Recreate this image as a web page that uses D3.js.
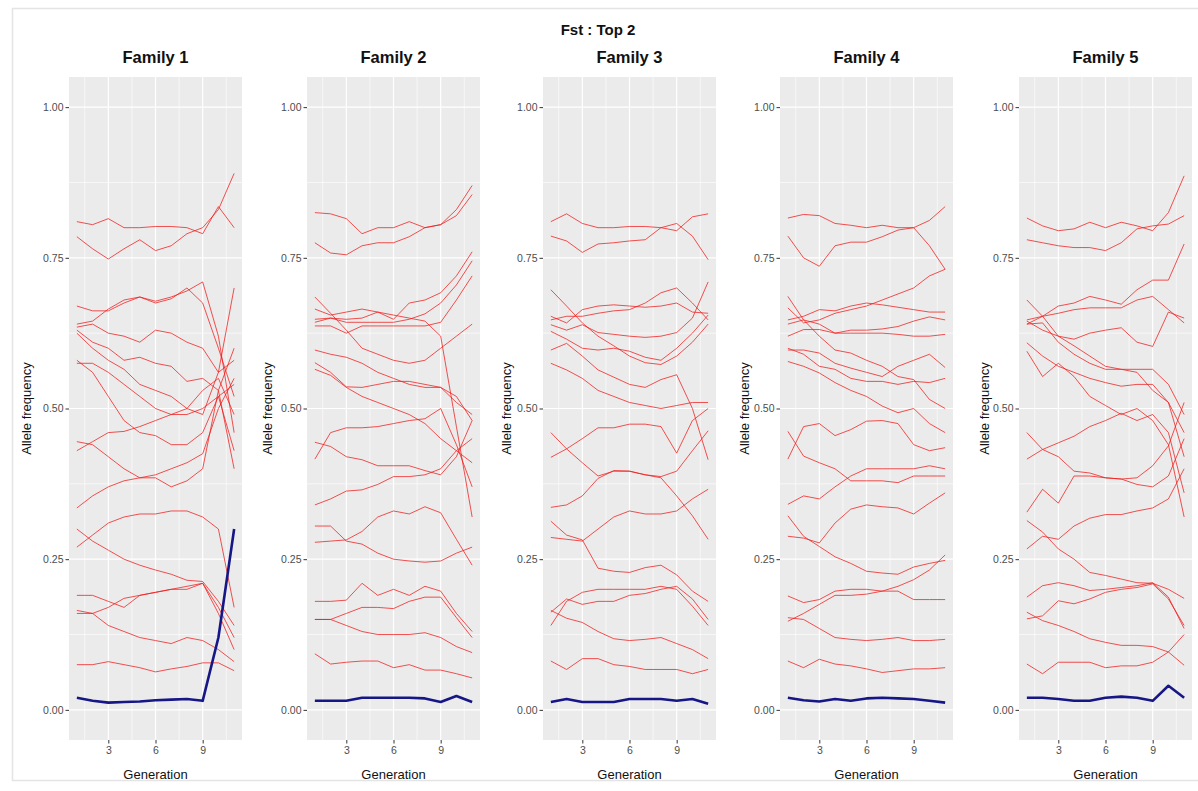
<!DOCTYPE html>
<html>
<head>
<meta charset="utf-8">
<script src="https://cdnjs.cloudflare.com/ajax/libs/d3/7.8.5/d3.min.js"></script>
<style>
  body { margin: 0; background: #fff; }
  svg { font-family: "Liberation Sans", Arial, sans-serif; display: block; }
</style>
</head>
<body>
<div id="chart"></div>
<script>
var mainTitle = 'Fst : Top 2';
var familyNames = ['Family 1', 'Family 2', 'Family 3', 'Family 4', 'Family 5'];
var generations = [1, 2, 3, 4, 5, 6, 7, 8, 9, 10, 11];
var yTicks = [0, 0.25, 0.5, 0.75, 1];
var yMinor = [0.125, 0.375, 0.625, 0.875];
var xTicks = [3, 6, 9];
var xMinor = [1.5, 4.5, 7.5, 10.5];

// allele frequency per generation, one row per SNP
var family1Red = [
  [0.81, 0.805, 0.815, 0.80, 0.80, 0.802, 0.802, 0.80, 0.79, 0.835, 0.80],
  [0.785, 0.765, 0.748, 0.765, 0.78, 0.762, 0.77, 0.79, 0.80, 0.83, 0.89],
  [0.67, 0.662, 0.662, 0.675, 0.685, 0.678, 0.685, 0.695, 0.71, 0.62, 0.46],
  [0.64, 0.645, 0.665, 0.68, 0.685, 0.675, 0.682, 0.70, 0.675, 0.60, 0.52],
  [0.635, 0.64, 0.625, 0.62, 0.61, 0.63, 0.625, 0.61, 0.60, 0.56, 0.70],
  [0.63, 0.61, 0.60, 0.58, 0.585, 0.575, 0.57, 0.545, 0.55, 0.53, 0.60],
  [0.625, 0.60, 0.58, 0.565, 0.54, 0.53, 0.52, 0.50, 0.49, 0.56, 0.58],
  [0.575, 0.575, 0.56, 0.54, 0.52, 0.50, 0.49, 0.50, 0.53, 0.55, 0.49],
  [0.58, 0.56, 0.52, 0.48, 0.46, 0.455, 0.44, 0.44, 0.46, 0.52, 0.43],
  [0.445, 0.44, 0.42, 0.40, 0.385, 0.385, 0.37, 0.38, 0.40, 0.53, 0.40],
  [0.43, 0.445, 0.46, 0.462, 0.47, 0.48, 0.49, 0.49, 0.50, 0.52, 0.54],
  [0.335, 0.355, 0.37, 0.38, 0.385, 0.39, 0.40, 0.41, 0.425, 0.50, 0.55],
  [0.30, 0.28, 0.265, 0.25, 0.24, 0.232, 0.225, 0.215, 0.213, 0.18, 0.14],
  [0.27, 0.29, 0.31, 0.32, 0.325, 0.325, 0.33, 0.33, 0.32, 0.30, 0.17],
  [0.19, 0.19, 0.18, 0.17, 0.19, 0.195, 0.20, 0.205, 0.21, 0.16, 0.10],
  [0.165, 0.16, 0.17, 0.185, 0.19, 0.195, 0.20, 0.20, 0.21, 0.17, 0.12],
  [0.16, 0.16, 0.14, 0.13, 0.12, 0.115, 0.11, 0.12, 0.115, 0.10, 0.08],
  [0.075, 0.075, 0.08, 0.075, 0.07, 0.063, 0.068, 0.072, 0.078, 0.078, 0.065]
];
var family1Blue = [0.02, 0.015, 0.012, 0.013, 0.014, 0.016, 0.017, 0.018, 0.015, 0.12, 0.30];

var family2Red = [
  [0.825, 0.823, 0.815, 0.79, 0.80, 0.80, 0.81, 0.80, 0.805, 0.83, 0.87],
  [0.775, 0.758, 0.755, 0.77, 0.775, 0.775, 0.785, 0.80, 0.805, 0.82, 0.855],
  [0.648, 0.65, 0.648, 0.65, 0.66, 0.648, 0.675, 0.68, 0.692, 0.72, 0.76],
  [0.643, 0.65, 0.643, 0.643, 0.643, 0.643, 0.648, 0.657, 0.675, 0.705, 0.745],
  [0.637, 0.637, 0.625, 0.637, 0.637, 0.637, 0.637, 0.637, 0.643, 0.68, 0.72],
  [0.685, 0.658, 0.63, 0.60, 0.59, 0.58, 0.575, 0.58, 0.60, 0.62, 0.64],
  [0.665, 0.655, 0.66, 0.665, 0.66, 0.655, 0.65, 0.645, 0.62, 0.47, 0.32],
  [0.597, 0.59, 0.585, 0.575, 0.56, 0.55, 0.54, 0.535, 0.535, 0.52, 0.48],
  [0.576, 0.56, 0.536, 0.535, 0.54, 0.545, 0.545, 0.54, 0.535, 0.51, 0.49],
  [0.565, 0.555, 0.535, 0.52, 0.51, 0.50, 0.49, 0.475, 0.45, 0.43, 0.41],
  [0.416, 0.46, 0.468, 0.468, 0.47, 0.475, 0.48, 0.483, 0.50, 0.44, 0.37],
  [0.444, 0.437, 0.42, 0.415, 0.405, 0.405, 0.405, 0.397, 0.39, 0.42, 0.48],
  [0.34, 0.35, 0.363, 0.365, 0.374, 0.387, 0.387, 0.39, 0.40, 0.43, 0.45],
  [0.305, 0.305, 0.28, 0.275, 0.26, 0.25, 0.247, 0.245, 0.247, 0.26, 0.27],
  [0.278, 0.28, 0.282, 0.296, 0.32, 0.33, 0.325, 0.337, 0.327, 0.283, 0.24],
  [0.18, 0.18, 0.182, 0.21, 0.19, 0.20, 0.19, 0.205, 0.197, 0.16, 0.13],
  [0.15, 0.15, 0.16, 0.17, 0.17, 0.168, 0.18, 0.187, 0.187, 0.153, 0.12],
  [0.15, 0.15, 0.14, 0.13, 0.125, 0.125, 0.125, 0.128, 0.12, 0.105, 0.095],
  [0.093, 0.076, 0.079, 0.081, 0.081, 0.07, 0.075, 0.066, 0.066, 0.06, 0.053]
];
var family2Blue = [0.015, 0.015, 0.015, 0.02, 0.02, 0.02, 0.02, 0.019, 0.013, 0.023, 0.013];

var family3Red = [
  [0.81, 0.823, 0.807, 0.80, 0.80, 0.802, 0.802, 0.80, 0.795, 0.818, 0.823],
  [0.786, 0.778, 0.759, 0.773, 0.775, 0.778, 0.78, 0.80, 0.807, 0.786, 0.747],
  [0.697, 0.67, 0.642, 0.62, 0.604, 0.587, 0.576, 0.573, 0.587, 0.61, 0.64],
  [0.653, 0.642, 0.664, 0.67, 0.672, 0.67, 0.668, 0.67, 0.675, 0.66, 0.658],
  [0.647, 0.653, 0.653, 0.658, 0.662, 0.664, 0.675, 0.692, 0.70, 0.675, 0.647],
  [0.639, 0.63, 0.639, 0.626, 0.623, 0.62, 0.618, 0.62, 0.626, 0.65, 0.71],
  [0.628, 0.615, 0.60, 0.597, 0.60, 0.595, 0.585, 0.58, 0.60, 0.625, 0.655],
  [0.597, 0.608, 0.587, 0.564, 0.552, 0.54, 0.535, 0.548, 0.556, 0.50, 0.415],
  [0.575, 0.564, 0.55, 0.53, 0.52, 0.51, 0.505, 0.50, 0.505, 0.51, 0.51],
  [0.46, 0.433, 0.41, 0.388, 0.396, 0.396, 0.39, 0.385, 0.355, 0.322, 0.283],
  [0.419, 0.433, 0.45, 0.468, 0.468, 0.474, 0.474, 0.47, 0.426, 0.48, 0.50],
  [0.336, 0.34, 0.355, 0.384, 0.397, 0.396, 0.39, 0.387, 0.396, 0.43, 0.463],
  [0.313, 0.29, 0.282, 0.235, 0.23, 0.228, 0.236, 0.24, 0.224, 0.197, 0.18],
  [0.286, 0.283, 0.28, 0.30, 0.32, 0.33, 0.325, 0.325, 0.33, 0.35, 0.366],
  [0.14, 0.18, 0.195, 0.20, 0.20, 0.20, 0.20, 0.205, 0.20, 0.172, 0.14],
  [0.162, 0.184, 0.175, 0.18, 0.18, 0.19, 0.193, 0.20, 0.205, 0.184, 0.15],
  [0.165, 0.152, 0.145, 0.13, 0.118, 0.115, 0.117, 0.12, 0.11, 0.10, 0.085],
  [0.081, 0.067, 0.085, 0.085, 0.075, 0.072, 0.067, 0.067, 0.067, 0.06, 0.067]
];
var family3Blue = [0.013, 0.018, 0.013, 0.013, 0.013, 0.018, 0.018, 0.018, 0.015, 0.018, 0.01];

var family4Red = [
  [0.816, 0.822, 0.82, 0.807, 0.804, 0.80, 0.804, 0.80, 0.80, 0.812, 0.835],
  [0.786, 0.75, 0.736, 0.77, 0.776, 0.776, 0.785, 0.796, 0.80, 0.77, 0.731],
  [0.686, 0.647, 0.62, 0.597, 0.592, 0.58, 0.57, 0.553, 0.548, 0.515, 0.50],
  [0.667, 0.642, 0.647, 0.658, 0.664, 0.67, 0.68, 0.69, 0.70, 0.72, 0.731],
  [0.647, 0.653, 0.664, 0.662, 0.67, 0.675, 0.672, 0.668, 0.664, 0.66, 0.66],
  [0.62, 0.631, 0.631, 0.625, 0.625, 0.625, 0.625, 0.623, 0.62, 0.62, 0.623],
  [0.64, 0.647, 0.64, 0.625, 0.63, 0.63, 0.632, 0.636, 0.645, 0.652, 0.647],
  [0.597, 0.597, 0.592, 0.575, 0.567, 0.56, 0.553, 0.57, 0.58, 0.59, 0.568],
  [0.578, 0.57, 0.559, 0.543, 0.53, 0.52, 0.504, 0.493, 0.50, 0.475, 0.46],
  [0.60, 0.59, 0.57, 0.565, 0.55, 0.545, 0.545, 0.54, 0.545, 0.543, 0.55],
  [0.416, 0.47, 0.475, 0.455, 0.465, 0.479, 0.48, 0.475, 0.44, 0.43, 0.435],
  [0.462, 0.421, 0.41, 0.40, 0.38, 0.38, 0.38, 0.377, 0.388, 0.388, 0.388],
  [0.341, 0.355, 0.35, 0.37, 0.388, 0.40, 0.40, 0.40, 0.40, 0.405, 0.40],
  [0.288, 0.285, 0.277, 0.31, 0.333, 0.34, 0.337, 0.335, 0.325, 0.343, 0.36],
  [0.322, 0.288, 0.271, 0.254, 0.243, 0.23, 0.227, 0.225, 0.237, 0.243, 0.248],
  [0.189, 0.178, 0.183, 0.197, 0.20, 0.20, 0.197, 0.197, 0.183, 0.183, 0.183],
  [0.147, 0.16, 0.175, 0.19, 0.19, 0.192, 0.197, 0.205, 0.216, 0.232, 0.257],
  [0.153, 0.15, 0.135, 0.12, 0.117, 0.115, 0.117, 0.12, 0.115, 0.115, 0.117],
  [0.081, 0.07, 0.084, 0.076, 0.073, 0.068, 0.062, 0.065, 0.068, 0.068, 0.07]
];
var family4Blue = [0.02, 0.016, 0.014, 0.018, 0.015, 0.019, 0.02, 0.019, 0.018, 0.015, 0.012];

var family5Red = [
  [0.816, 0.803, 0.795, 0.798, 0.809, 0.80, 0.809, 0.803, 0.795, 0.825, 0.886],
  [0.78, 0.775, 0.77, 0.767, 0.767, 0.762, 0.775, 0.798, 0.803, 0.806, 0.82],
  [0.68, 0.653, 0.62, 0.604, 0.587, 0.57, 0.565, 0.565, 0.565, 0.54, 0.49],
  [0.647, 0.653, 0.67, 0.675, 0.686, 0.68, 0.673, 0.697, 0.713, 0.713, 0.773],
  [0.64, 0.653, 0.658, 0.664, 0.667, 0.667, 0.667, 0.68, 0.686, 0.664, 0.642],
  [0.645, 0.63, 0.62, 0.615, 0.625, 0.63, 0.634, 0.61, 0.603, 0.66, 0.65],
  [0.64, 0.642, 0.61, 0.59, 0.575, 0.565, 0.565, 0.56, 0.53, 0.51, 0.42],
  [0.609, 0.587, 0.57, 0.56, 0.55, 0.543, 0.537, 0.54, 0.54, 0.51, 0.46],
  [0.595, 0.553, 0.575, 0.553, 0.52, 0.505, 0.49, 0.50, 0.48, 0.44, 0.32],
  [0.46, 0.432, 0.42, 0.396, 0.393, 0.385, 0.383, 0.374, 0.37, 0.388, 0.45],
  [0.416, 0.432, 0.443, 0.454, 0.47, 0.48, 0.492, 0.48, 0.49, 0.46, 0.36],
  [0.328, 0.366, 0.343, 0.388, 0.388, 0.385, 0.383, 0.385, 0.405, 0.438, 0.51],
  [0.267, 0.288, 0.283, 0.305, 0.318, 0.324, 0.324, 0.33, 0.335, 0.35, 0.40],
  [0.314, 0.295, 0.267, 0.25, 0.228, 0.223, 0.217, 0.211, 0.21, 0.20, 0.185],
  [0.187, 0.206, 0.211, 0.206, 0.198, 0.20, 0.203, 0.206, 0.211, 0.187, 0.135],
  [0.151, 0.156, 0.181, 0.176, 0.184, 0.195, 0.20, 0.203, 0.209, 0.184, 0.14],
  [0.162, 0.148, 0.14, 0.13, 0.118, 0.112, 0.107, 0.107, 0.105, 0.096, 0.074],
  [0.076, 0.06, 0.079, 0.079, 0.079, 0.07, 0.073, 0.073, 0.079, 0.096, 0.125]
];
var family5Blue = [0.02, 0.02, 0.018, 0.015, 0.015, 0.02, 0.022, 0.02, 0.015, 0.04, 0.02];

var redSeries = [family1Red, family2Red, family3Red, family4Red, family5Red];
var blueSeries = [family1Blue, family2Blue, family3Blue, family4Blue, family5Blue];

// layout of the five side-by-side ggplot panels
var svgWidth = 1198;
var svgHeight = 791;
var panelLeft = [69, 307, 543, 780, 1019];
var yTitleX = [27, 268, 507, 745, 985];
var panelTop = 77;
var panelWidth = 173;
var panelHeight = 663;

var svg = d3.select('#chart').append('svg')
  .attr('width', svgWidth)
  .attr('height', svgHeight);

// faint frame of the screenshot
svg.append('rect')
  .attr('x', 12.5)
  .attr('y', 8.5)
  .attr('width', svgWidth)
  .attr('height', 772)
  .attr('fill', 'none')
  .attr('stroke', '#e4e4e4')
  .attr('stroke-width', 1.5);

svg.append('text')
  .attr('x', 598)
  .attr('y', 35)
  .attr('text-anchor', 'middle')
  .attr('font-size', 15)
  .attr('font-weight', 'bold')
  .attr('fill', '#111')
  .text(mainTitle);

familyNames.forEach(function (name, i) {
  var xScale = d3.scaleLinear()
    .domain([0.5, 11.5])
    .range([0, panelWidth]);
  var yScale = d3.scaleLinear()
    .domain([-0.05, 1.05])
    .range([panelHeight, 0]);

  var g = svg.append('g')
    .attr('transform', 'translate(' + panelLeft[i] + ', ' + panelTop + ')');

  g.append('rect')
    .attr('width', panelWidth)
    .attr('height', panelHeight)
    .attr('fill', '#ebebeb');

  // grid
  g.selectAll('.ymin').data(yMinor).enter().append('line')
    .attr('x1', 0).attr('x2', panelWidth)
    .attr('y1', yScale).attr('y2', yScale)
    .attr('stroke', '#fff').attr('stroke-width', 0.6);
  g.selectAll('.xmin').data(xMinor).enter().append('line')
    .attr('y1', 0).attr('y2', panelHeight)
    .attr('x1', xScale).attr('x2', xScale)
    .attr('stroke', '#fff').attr('stroke-width', 0.6);
  g.selectAll('.ymaj').data(yTicks).enter().append('line')
    .attr('x1', 0).attr('x2', panelWidth)
    .attr('y1', yScale).attr('y2', yScale)
    .attr('stroke', '#fff').attr('stroke-width', 1.2);
  g.selectAll('.xmaj').data(xTicks).enter().append('line')
    .attr('y1', 0).attr('y2', panelHeight)
    .attr('x1', xScale).attr('x2', xScale)
    .attr('stroke', '#fff').attr('stroke-width', 1.2);

  var line = d3.line()
    .x(function (_, index) {
      return xScale(generations[index]);
    })
    .y(function (d) {
      return yScale(d);
    });

  g.selectAll('.red').data(redSeries[i]).enter().append('path')
    .attr('d', line)
    .attr('fill', 'none')
    .attr('stroke', '#f01c1c')
    .attr('stroke-opacity', 0.85)
    .attr('stroke-width', 0.9);

  g.append('path')
    .datum(blueSeries[i])
    .attr('d', line)
    .attr('fill', 'none')
    .attr('stroke', '#161686')
    .attr('stroke-width', 2.6)
    .attr('stroke-linejoin', 'round');

  var yAxis = d3.axisLeft(yScale)
    .tickValues(yTicks)
    .tickFormat(d3.format('.2f'))
    .tickSize(3.5)
    .tickPadding(2);
  var xAxis = d3.axisBottom(xScale)
    .tickValues(xTicks)
    .tickSize(3.5)
    .tickPadding(3);

  var ya = g.append('g').call(yAxis);
  var xa = g.append('g')
    .attr('transform', 'translate(0, ' + panelHeight + ')')
    .call(xAxis);
  [ya, xa].forEach(function (a) {
    a.select('.domain').remove();
    a.selectAll('line').attr('stroke', '#333');
    a.selectAll('text')
      .attr('fill', '#4d4d4d')
      .attr('font-size', 10.5)
      .attr('font-family', '"Liberation Sans", Arial, sans-serif');
  });

  g.append('text')
    .attr('x', panelWidth / 2)
    .attr('y', -14)
    .attr('text-anchor', 'middle')
    .attr('font-size', 16.5)
    .attr('font-weight', 'bold')
    .attr('fill', '#111')
    .text(name);

  g.append('text')
    .attr('x', panelWidth / 2)
    .attr('y', panelHeight + 39)
    .attr('text-anchor', 'middle')
    .attr('font-size', 13)
    .attr('fill', '#111')
    .text('Generation');

  svg.append('text')
    .attr('transform', 'translate(' + (yTitleX[i] + 4) + ', ' + (panelTop + panelHeight / 2) + ') rotate(-90)')
    .attr('text-anchor', 'middle')
    .attr('font-size', 13)
    .attr('fill', '#111')
    .text('Allele frequency');
});
</script>
</body>
</html>
